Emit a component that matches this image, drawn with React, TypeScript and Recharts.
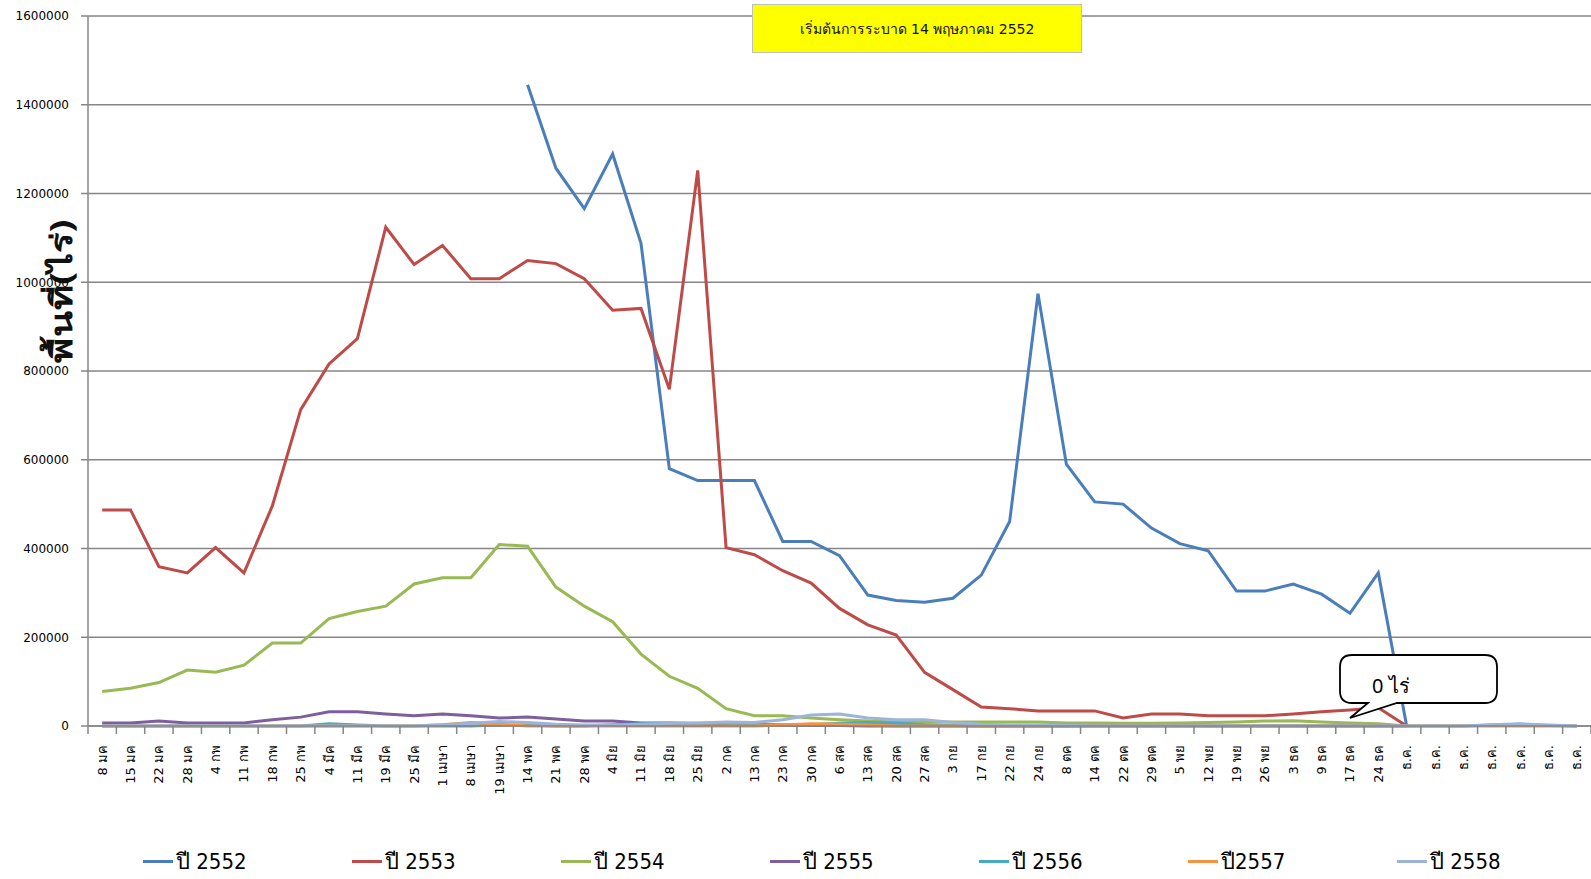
import { LineChart, Line, XAxis, YAxis, CartesianGrid } from "recharts";

const categories = [
  "8 มค", "15 มค", "22 มค", "28 มค", "4 กพ", "11 กพ", "18 กพ", "25 กพ",
  "4 มีค", "11 มีค", "19 มีค", "25 มีค", "1 เมษา", "8 เมษา", "19 เมษา",
  "14 พค", "21 พค", "28 พค", "4 มิย", "11 มิย", "18 มิย", "25 มิย",
  "2 กค", "13 กค", "23 กค", "30 กค", "6 สค", "13 สค", "20 สค", "27 สค",
  "3 กย", "17 กย", "22 กย", "24 กย", "8 ตค", "14 ตค", "22 ตค", "29 ตค",
  "5 พย", "12 พย", "19 พย", "26 พย", "3 ธค", "9 ธค", "17 ธค", "24 ธค",
  "ธ.ค.", "ธ.ค.", "ธ.ค.", "ธ.ค.", "ธ.ค.", "ธ.ค.", "ธ.ค.",
];

const y2552 = [
  null, null, null, null, null, null, null, null, null, null, null, null, null, null, null,
  1445000, 1257000, 1166000, 1289000, 1088000, 580000, 553000, 553000, 553000,
  416000, 416000, 384000, 295000, 283000, 279000, 288000, 340000, 461000, 974000,
  590000, 505000, 500000, 446000, 411000, 395000, 304000, 304000, 320000, 297000,
  254000, 345000, 0,
];
const y2553 = [
  487000, 487000, 359000, 345000, 402000, 345000, 496000, 713000, 816000, 873000,
  1124000, 1040000, 1083000, 1008000, 1008000, 1049000, 1042000, 1008000, 937000,
  941000, 759000, 1252000, 402000, 386000, 350000, 322000, 265000, 228000, 205000,
  121000, 82000, 43000, 39000, 34000, 34000, 34000, 18000, 27000, 27000, 23000,
  23000, 23000, 27000, 32000, 36000, 41000, 0,
];
const y2554 = [
  78000, 85000, 98000, 126000, 121000, 137000, 187000, 187000, 242000, 258000,
  270000, 320000, 334000, 334000, 409000, 405000, 313000, 270000, 235000, 162000,
  112000, 85000, 39000, 23000, 23000, 18000, 14000, 11000, 9000, 9000, 9000, 9000,
  9000, 9000, 7000, 7000, 6000, 6000, 7000, 8000, 9000, 11000, 12000, 9000, 7000,
  5000, 0,
];
const y2555 = [
  7000, 7000, 11000, 7000, 7000, 7000, 14000, 20000, 32000, 32000, 27000, 23000,
  27000, 23000, 18000, 20000, 16000, 11000, 11000, 7000, 7000, 5000, 2000, 1000,
  1000, 1000, 1000, 0, 0, 0, 0, 0, 0, 0, 0, 0, 0, 0, 0, 0, 0, 0, 0, 0, 0, 0, 0,
];
const y2556 = [
  0, 0, 0, 0, 0, 0, 0, 0, 5000, 2000, 0, 0, 0, 0, 2000, 2000, 0, 0, 3000, 5000,
  6000, 6000, 6000, 4000, 3000, 3000, 6000, 8000, 6000, 3000, 1000, 0, 0, 0, 0,
  0, 0, 0, 0, 0, 0, 0, 0, 0, 0, 0, 0, 0, 0, 2000, 4000, 1000, 0,
];
const y2557 = [
  0, 0, 0, 0, 0, 0, 0, 0, 0, 0, 0, 0, 3000, 8000, 4000, 0, 0, 0, 0, 0, 0, 0, 0,
  0, 2000, 5000, 4000, 2000, 0, 0, 0, 0, 0, 0, 0, 0, 0, 0, 0, 0, 0, 0, 0, 0, 0,
  0, 0, 0, 0, 0, 0, 0, 0,
];
const y2558 = [
  0, 0, 0, 0, 0, 0, 0, 0, 0, 0, 0, 0, 3000, 6000, 10000, 8000, 4000, 2000, 2000,
  4000, 6000, 7000, 9000, 8000, 14000, 25000, 27000, 18000, 14000, 14000, 8000,
  4000, 2000, 2000, 1000, 0, 0, 0, 0, 0, 0, 0, 0, 0, 0, 0, 0, 0, 0, 3000, 5000,
  2000, 0,
];

const seriesNames = ["ปี 2552", "ปี 2553", "ปี 2554", "ปี 2555", "ปี 2556", "ปี2557", "ปี 2558"];
const seriesColors = ["#4A7EBB", "#BE4B48", "#98B954", "#7D5FA0", "#46AAC5", "#F69240", "#9DB4DA"];
const seriesValues = [y2552, y2553, y2554, y2555, y2556, y2557, y2558];

const yTicks = [0, 200000, 400000, 600000, 800000, 1000000, 1200000, 1400000, 1600000];

const data = categories.map((c, i) => {
  const row: Record<string, string | number | null> = { name: c };
  seriesValues.forEach((s, k) => {
    row["s" + k] = s[i] ?? null;
  });
  return row;
});

const W = 1591;
const H = 879;
const PLOT_LEFT = 88;
const PLOT_TOP = 16;
const PLOT_BOTTOM = 726;
const STEP = (W - PLOT_LEFT) / categories.length;

const XTick = (props: any) => {
  const { x, y, payload, index } = props;
  const left = x - STEP / 2;
  return (
    <g>
      <line x1={left} y1={y - 8} x2={left} y2={y} stroke="#868686" strokeWidth={1.5} />
      {index === categories.length - 1 && (
        <line x1={x + STEP / 2} y1={y - 8} x2={x + STEP / 2} y2={y} stroke="#868686" strokeWidth={1.5} />
      )}
      <text
        x={x}
        y={y + 11}
        transform={`rotate(-90, ${x}, ${y + 11})`}
        textAnchor="end"
        dominantBaseline="central"
        fontSize={13}
        fontFamily="Tahoma, 'DejaVu Sans', sans-serif"
        fill="#000"
      >
        {payload.value}
      </text>
    </g>
  );
};

export default function App() {
  return (
    <div style={{ position: "absolute", left: 0, top: 0, width: W, height: H, background: "#fff" }}>
      <LineChart
        width={W}
        height={H}
        data={data}
        margin={{ top: PLOT_TOP, right: 0, left: 18, bottom: 0 }}
      >
        <CartesianGrid vertical={false} stroke="#868686" strokeWidth={1.5} />
        <XAxis
          dataKey="name"
          interval={0}
          height={H - PLOT_BOTTOM}
          padding={{ left: STEP / 2, right: STEP / 2 }}
          tickLine={false}
          axisLine={{ stroke: "#868686", strokeWidth: 1.5 }}
          tick={<XTick />}
        />
        <YAxis
          width={70}
          domain={[0, 1600000]}
          ticks={yTicks}
          interval={0}
          tickSize={7}
          tickMargin={12}
          axisLine={{ stroke: "#868686", strokeWidth: 1.5 }}
          tickLine={{ stroke: "#868686", strokeWidth: 1.5 }}
          tick={{ fontSize: 12, fill: "#000", fontFamily: "Tahoma, 'DejaVu Sans', sans-serif" }}
          label={{
            content: () => (
              <text
                x={60}
                y={291}
                transform="rotate(-90, 60, 291)"
                textAnchor="middle"
                dominantBaseline="central"
                fontSize={30}
                fontWeight="bold"
                textLength={143}
                lengthAdjust="spacingAndGlyphs"
                fill="#111"
                fontFamily="'Noto Sans', 'DejaVu Sans', sans-serif"
              >
                พื้นที่(ไร่)
              </text>
            ),
          }}
        />
        {seriesNames.map((n, k) => (
          <Line
            key={n}
            type="linear"
            dataKey={"s" + k}
            name={n}
            stroke={seriesColors[k]}
            strokeWidth={3}
            dot={false}
            activeDot={false}
            isAnimationActive={false}
          />
        ))}
      </LineChart>

      {/* title box */}
      <div
        style={{
          position: "absolute",
          left: 752,
          top: 4,
          width: 330,
          height: 49,
          boxSizing: "border-box",
          background: "#FFFF00",
          border: "1.5px solid #BFBFBF",
          display: "flex",
          alignItems: "center",
          justifyContent: "center",
          fontFamily: "Tahoma, 'DejaVu Sans', sans-serif",
          fontSize: 14,
          color: "#111",
        }}
      >
        เริ่มต้นการระบาด 14 พฤษภาคม 2552
      </div>

      {/* callout */}
      <svg style={{ position: "absolute", left: 0, top: 0 }} width={W} height={H} pointerEvents="none">
        <path
          d="M1352 655 H1485 Q1497 655 1497 667 V691 Q1497 703 1485 703 H1397 L1350 718 L1368 703 H1352 Q1340 703 1340 691 V667 Q1340 655 1352 655 Z"
          fill="#fff"
          stroke="#000"
          strokeWidth={1.8}
        />
        <text x={1372} y={685} fontSize={20} fontFamily="'Noto Sans', 'DejaVu Sans', sans-serif" fill="#000" dominantBaseline="central">
          0 ไร่
        </text>
      </svg>

      {/* legend */}
      {seriesNames.map((n, k) => (
        <div
          key={n}
          style={{
            position: "absolute",
            left: 143 + k * 209,
            top: 846,
            height: 30,
            display: "flex",
            alignItems: "center",
            fontFamily: "'Liberation Sans Narrow', 'DejaVu Sans Condensed', sans-serif",
            fontSize: 22,
            color: "#000",
          }}
        >
          <span style={{ display: "inline-block", width: 30, height: 3, background: seriesColors[k], marginRight: 3 }} />
          {n}
        </div>
      ))}
    </div>
  );
}
